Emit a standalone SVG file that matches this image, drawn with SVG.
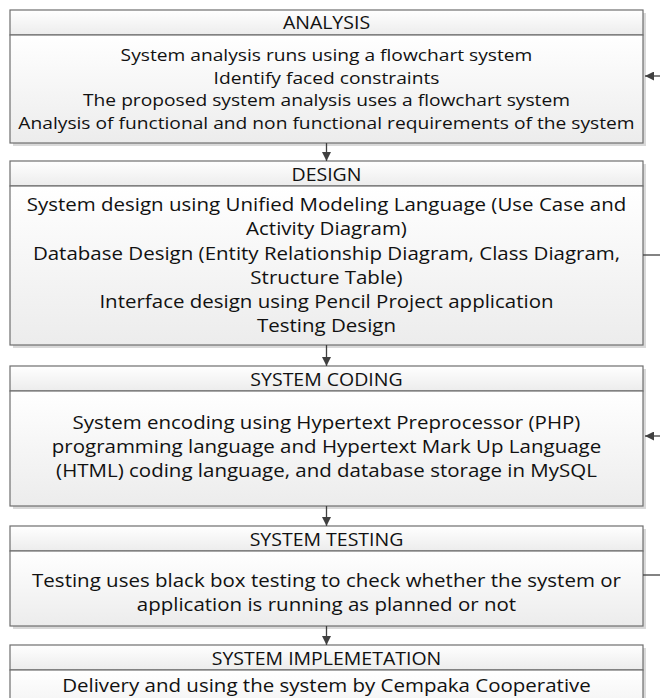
<svg xmlns="http://www.w3.org/2000/svg" width="660" height="698" viewBox="0 0 660 698">
<defs>
<linearGradient id="g" x1="0" y1="0" x2="0" y2="1"><stop offset="0" stop-color="#ffffff"/><stop offset="1" stop-color="#ececec"/></linearGradient>
<marker id="ah" viewBox="0 0 10 10" refX="10" refY="5" markerWidth="9" markerHeight="9" markerUnits="userSpaceOnUse" orient="auto"><path d="M0,0 L10,5 L0,10 z" fill="#404040"/></marker>
</defs>
<style>
.sh{fill:#d9d9d9;}
.bx{fill:url(#g);stroke:#6e6e6e;stroke-width:1.2;}
.t{font-family:"Open Sans","Liberation Sans",sans-serif;font-size:17.5px;fill:#111;text-anchor:middle;}
.ta{font-size:16.8px;}
.c{stroke:#404040;stroke-width:1.3;fill:none;}
</style>
<rect width="660" height="698" fill="#fff"/>
<g id="analysis">
<rect class="sh" x="13" y="13" width="633" height="133"/>
<rect class="bx" x="10" y="10" width="633" height="25"/>
<rect class="bx" x="10" y="35" width="633" height="108"/>
<text class="t" x="326.5" y="29" transform="translate(326.5 0) scale(1.114 1) translate(-326.5 0)">ANALYSIS</text>
<g transform="translate(326.5 0) scale(1.143 1) translate(-326.5 0)">
<text class="t ta" x="326.5" y="61">System analysis runs using a flowchart system</text>
<text class="t ta" x="326.5" y="84">Identify faced constraints</text>
<text class="t ta" x="326.5" y="106">The proposed system analysis uses a flowchart system</text>
<text class="t ta" x="326.5" y="129">Analysis of functional and non functional requirements of the system</text>
</g>
</g>
<g id="design">
<rect class="sh" x="13" y="164" width="633" height="184"/>
<rect class="bx" x="10" y="161" width="633" height="25"/>
<rect class="bx" x="10" y="186" width="633" height="159"/>
<text class="t" x="326.5" y="181" transform="translate(326.5 0) scale(1.114 1) translate(-326.5 0)">DESIGN</text>
<g transform="translate(326.5 0) scale(1.171 1) translate(-326.5 0)">
<text class="t" x="326.5" y="211">System design using Unified Modeling Language (Use Case and</text>
<text class="t" x="326.5" y="235">Activity Diagram)</text>
<text class="t" x="326.5" y="260">Database Design (Entity Relationship Diagram, Class Diagram,</text>
<text class="t" x="326.5" y="284">Structure Table)</text>
<text class="t" x="326.5" y="308">Interface design using Pencil Project application</text>
<text class="t" x="326.5" y="332">Testing Design</text>
</g>
</g>
<g id="coding">
<rect class="sh" x="13" y="369" width="633" height="140"/>
<rect class="bx" x="10" y="366" width="633" height="25"/>
<rect class="bx" x="10" y="391" width="633" height="115"/>
<text class="t" x="326.5" y="386" transform="translate(326.5 0) scale(1.114 1) translate(-326.5 0)">SYSTEM CODING</text>
<g transform="translate(326.5 0) scale(1.171 1) translate(-326.5 0)">
<text class="t" x="326.5" y="429">System encoding using Hypertext Preprocessor (PHP)</text>
<text class="t" x="326.5" y="453">programming language and Hypertext Mark Up Language</text>
<text class="t" x="326.5" y="477">(HTML) coding language, and database storage in MySQL</text>
</g>
</g>
<g id="testing">
<rect class="sh" x="13" y="529" width="633" height="100"/>
<rect class="bx" x="10" y="526" width="633" height="25"/>
<rect class="bx" x="10" y="551" width="633" height="75"/>
<text class="t" x="326.5" y="546" transform="translate(326.5 0) scale(1.114 1) translate(-326.5 0)">SYSTEM TESTING</text>
<g transform="translate(326.5 0) scale(1.171 1) translate(-326.5 0)">
<text class="t" x="326.5" y="587">Testing uses black box testing to check whether the system or</text>
<text class="t" x="326.5" y="611">application is running as planned or not</text>
</g>
</g>
<g id="implementation">
<rect class="sh" x="13" y="648" width="633" height="80"/>
<rect class="bx" x="10" y="645" width="633" height="25"/>
<rect class="bx" x="10" y="670" width="633" height="60"/>
<text class="t" x="326.5" y="665" transform="translate(326.5 0) scale(1.114 1) translate(-326.5 0)">SYSTEM IMPLEMETATION</text>
<text class="t" x="326.5" y="692" transform="translate(326.5 0) scale(1.171 1) translate(-326.5 0)">Delivery and using the system by Cempaka Cooperative</text>
</g>
<g id="connectors">
<line class="c" x1="326.5" y1="143" x2="326.5" y2="161" marker-end="url(#ah)"/>
<line class="c" x1="326.5" y1="345" x2="326.5" y2="366" marker-end="url(#ah)"/>
<line class="c" x1="326.5" y1="506" x2="326.5" y2="526" marker-end="url(#ah)"/>
<line class="c" x1="326.5" y1="626" x2="326.5" y2="645" marker-end="url(#ah)"/>
<line class="c" x1="643" y1="255" x2="660" y2="255"/>
<line class="c" x1="660" y1="76" x2="645" y2="76" marker-end="url(#ah)"/>
<line class="c" x1="643" y1="575" x2="660" y2="575"/>
<line class="c" x1="660" y1="436" x2="645" y2="436" marker-end="url(#ah)"/>
</g>
</svg>
